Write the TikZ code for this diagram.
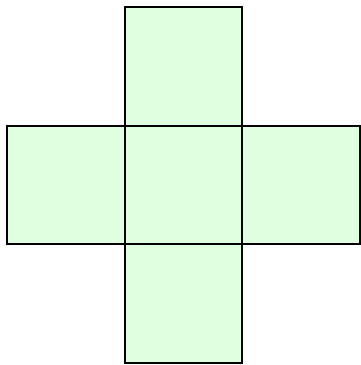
\documentclass[tikz,border=0pt]{standalone}
\usepackage{tikz}
\usetikzlibrary{positioning}

\begin{document}
\begin{tikzpicture}[
    x=1pt, y=1pt,
    node distance=0pt,
    faceBox/.style={
        rectangle, draw=black, line width=2.2pt, fill=green!12,
        minimum width=117.7pt, minimum height=118.5pt,
        inner sep=0pt, outer sep=0pt
    }
]

% Frame of the picture
\useasboundingbox (0,0) rectangle (361,365);

% Centre square
\node[faceBox] (mid) at (183.5,180) {};

% Arms of the cross
\node[faceBox, above=of mid] (top) {};
\node[faceBox, below=of mid] (bottom) {};
\node[faceBox, left=of mid] (left) {};
\node[faceBox, right=of mid] (right) {};

\end{tikzpicture}
\end{document}
